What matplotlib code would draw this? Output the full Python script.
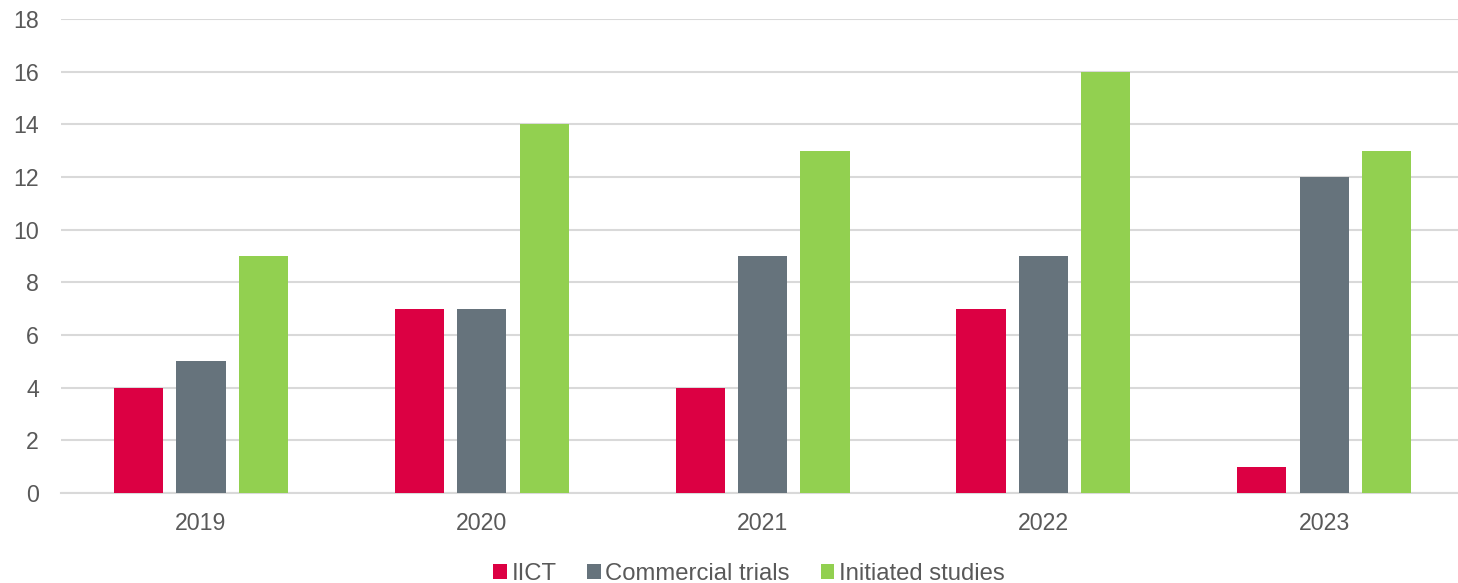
import matplotlib
matplotlib.use("Agg")
import matplotlib.pyplot as plt
import numpy as np

years = ["2019", "2020", "2021", "2022", "2023"]
iict = [4, 7, 4, 7, 1]
commercial = [5, 7, 9, 9, 12]
initiated = [9, 14, 13, 16, 13]
series_names = ["IICT", "Commercial trials", "Initiated studies"]
colors = ["#DC0043", "#66737C", "#92D050"]
yticks = [0, 2, 4, 6, 8, 10, 12, 14, 16, 18]

plt.rcParams['font.family'] = ['Liberation Sans', 'DejaVu Sans']
fig = plt.figure(figsize=(14.58, 5.83), dpi=100)
ax = fig.add_axes([60.6/1458, 1-493/583, 1404/1458, (493-19)/583])

x = np.arange(len(years))
w = 0.175
off = 0.222
for i, (vals, name, c) in enumerate(zip([iict, commercial, initiated], series_names, colors)):
    ax.bar(x + (i-1)*off, vals, width=w, color=c, label=name, zorder=3)

ax.set_xlim(-0.5, len(years)-0.5)
ax.set_ylim(0, 18)
ax.set_yticks(yticks)
ax.set_xticks(x)
ax.set_xticklabels(years)
ax.grid(axis='y', color='#D9D9D9', linewidth=1.5, zorder=0)
for s in ['top', 'right', 'left']:
    ax.spines[s].set_visible(False)
ax.spines['bottom'].set_color('#D9D9D9')
ax.spines['bottom'].set_linewidth(1.5)
ax.tick_params(axis='both', length=0, labelsize=16.7, colors='#595959')
ax.tick_params(axis='y', pad=15.5)
ax.tick_params(axis='x', pad=13.5)

leg = fig.legend(loc='lower center', bbox_to_anchor=(749/1458, -0.04), ncol=3, frameon=False,
                 fontsize=17.2, handlelength=0.55, handleheight=0.55, handletextpad=0.2,
                 columnspacing=1.3)
for t in leg.get_texts():
    t.set_color('#595959')

fig.savefig("out.png", dpi=100)
